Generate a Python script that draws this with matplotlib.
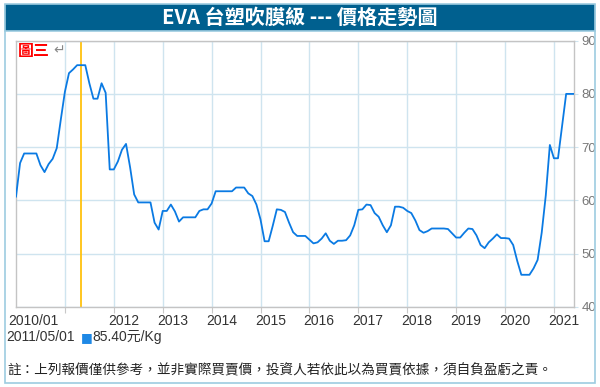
import numpy as np
import matplotlib
matplotlib.use('Agg')
import matplotlib.pyplot as plt
from matplotlib.patches import Rectangle

# monthly price 2010/01 - 2021/06 (元/Kg)
prices = [
    60.7, 67.0, 68.8, 68.8, 68.8, 68.8, 66.6, 65.3, 66.8, 67.8, 69.8, 75.2,   # 2010
    80.4, 83.9, 84.6, 85.4, 85.4, 85.4, 82.0, 79.1, 79.1, 82.0, 80.2, 65.8,   # 2011
    65.8, 67.3, 69.5, 70.6, 66.2, 61.1, 59.6, 59.6, 59.6, 59.6, 55.8, 54.5,   # 2012
    58.0, 58.0, 59.2, 57.9, 56.0, 56.8, 56.8, 56.8, 56.8, 58.0, 58.3, 58.3,   # 2013
    59.4, 61.7, 61.7, 61.7, 61.7, 61.7, 62.4, 62.4, 62.4, 61.3, 60.8, 59.2,   # 2014
    56.4, 52.3, 52.3, 55.2, 58.3, 58.2, 57.8, 55.8, 54.0, 53.3, 53.3, 53.3,   # 2015
    52.6, 51.9, 52.1, 52.8, 53.8, 52.4, 51.8, 52.4, 52.4, 52.5, 53.4, 55.3,   # 2016
    58.2, 58.3, 59.2, 59.1, 57.6, 56.9, 55.3, 54.0, 55.3, 58.8, 58.8, 58.6,   # 2017
    58.0, 57.6, 56.2, 54.4, 53.9, 54.2, 54.7, 54.7, 54.7, 54.7, 54.6, 53.8,   # 2018
    53.0, 53.0, 53.9, 54.7, 54.6, 53.4, 51.6, 51.0, 52.1, 52.8, 53.6, 52.9,   # 2019
    52.9, 52.8, 51.6, 48.6, 46.0, 46.0, 46.0, 47.2, 48.8, 53.9, 60.9, 70.4,   # 2020
    67.9, 67.9, 73.9, 80.0, 80.0, 80.0,                                       # 2021
]
start_year = 2010
x = start_year + np.arange(len(prices)) / 12

grid_years = list(range(2011, 2022))
label_text = ['2010/01'] + [str(y) for y in range(2012, 2022)]
label_pos = [2010.36] + [y + 0.2 for y in range(2012, 2022)]
y_ticks = [40, 50, 60, 70, 80, 90]

marker_idx = 16
marker_date = '2011/05/01'
unit = '元/Kg'
title = 'EVA 台塑吹膜級 --- 價格走勢圖'
tag = '圖三'
note = '註：上列報價僅供參考，並非實際買賣價，投資人若依此以為買賣依據，須自負盈虧之責。'

plt.rcParams['font.family'] = ['Liberation Sans', 'Noto Sans CJK TC', 'DejaVu Sans']
cjk = ['Noto Sans CJK TC', 'DejaVu Sans']

W, H = 600, 387
fig = plt.figure(figsize=(W / 100, H / 100), dpi=100)

def fx(px):
    return px / W

def fy(py):
    return 1 - py / H

# outer frame and title bar
fig.patches.append(Rectangle((fx(5), fy(383)), fx(590), 378 / H, transform=fig.transFigure,
                             fill=False, ec='#9dcce0', lw=1.2, zorder=0))
fig.patches.append(Rectangle((fx(5), fy(31)), fx(590), 27 / H, transform=fig.transFigure,
                             fc='#00608f', ec='#9dcce0', lw=1.2, zorder=1))
fig.text(0.5, fy(17.5), title, color='white', fontsize=14.5, fontweight='bold',
         ha='center', va='center', family=cjk)

ax = fig.add_axes([fx(16), fy(306.7), fx(574.3 - 16), (306.7 - 40.7) / H])
ax.plot(x, prices, color='#0a7ae3', lw=1.3, zorder=3)
ax.axvline(x[marker_idx], color='#ffc20e', lw=1.3, zorder=2)

ax.set_xlim(x[0], x[-1])
ax.set_ylim(y_ticks[0], y_ticks[-1])

# gridlines at the year boundaries, labels slightly to the right
ax.set_xticks(grid_years)
ax.set_xticklabels([])
ax.tick_params(axis='x', which='major', length=4, color='#c8c8c8', direction='out')
ax.set_xticks(label_pos, label_text, minor=True)
ax.tick_params(axis='x', which='minor', length=0, pad=5, labelsize=10, labelcolor='#333333')

ax.yaxis.tick_right()
ax.set_yticks(y_ticks)
ax.tick_params(axis='y', length=3, color='#cfe4ef', pad=2, labelsize=9.5, labelcolor='#777777')

ax.grid(True, which='major', color='#cfe4ef', lw=1, zorder=0)
for s in ax.spines.values():
    s.set_color('#c4c4c4')
    s.set_linewidth(1)

ax.text(0.004, 0.99, tag, transform=ax.transAxes, color='red', fontsize=11.5,
        fontweight='bold', ha='left', va='top', family=cjk)
ax.text(0.066, 0.99, '↵', transform=ax.transAxes, color='#888888', fontsize=10,
        ha='left', va='top', family=['DejaVu Sans'])

# value of the marked month
fig.text(fx(6), fy(337), marker_date, color='#333333', fontsize=10, va='center')
fig.text(fx(81), fy(337.5), '■', color='#1e88e5', fontsize=9, va='center',
         family=['DejaVu Sans'])
fig.text(fx(92), fy(337), f'{prices[marker_idx]:.2f}{unit}', color='#333333',
         fontsize=10, va='center')

fig.text(fx(7), fy(370), note, color='#222222', fontsize=9.8, va='center', family=cjk)

fig.savefig('out.png', dpi=100)
